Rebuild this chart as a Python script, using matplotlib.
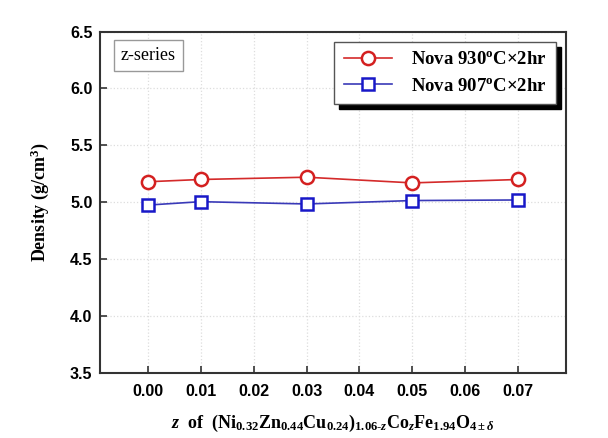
import numpy as np
import matplotlib
matplotlib.use('Agg')
import matplotlib.pyplot as plt

# composition z and sintered density (g/cm3)
z = [0.00, 0.01, 0.03, 0.05, 0.07]
dens_930 = [5.18, 5.20, 5.22, 5.17, 5.20]
dens_907 = [4.975, 5.005, 4.985, 5.015, 5.02]
labels = [r'Nova 930$^{\rm o}$C$\times$2hr', r'Nova 907$^{\rm o}$C$\times$2hr']
xticks = [0.00, 0.01, 0.02, 0.03, 0.04, 0.05, 0.06, 0.07]
yticks = [3.5, 4.0, 4.5, 5.0, 5.5, 6.0, 6.5]

plt.rcParams['mathtext.fontset'] = 'custom'
plt.rcParams['mathtext.rm'] = 'Liberation Serif:bold'
plt.rcParams['mathtext.bf'] = 'Liberation Serif:bold'
plt.rcParams['mathtext.it'] = 'Liberation Serif:italic:bold'

fig = plt.figure(figsize=(6.08, 4.38), dpi=100)
ax = fig.add_axes([99.5 / 608, 1 - 373 / 438, (566 - 99.5) / 608, (373 - 31.5) / 438])

ax.plot(z, dens_930, '-o', color='#d42a2a', lw=1.2, ms=9.5, mfc='white',
        mec='#d42020', mew=1.8, label=labels[0])
ax.plot(z, dens_907, '-s', color='#3a3ab8', lw=1.2, ms=8, mfc='white',
        mec='#1818c8', mew=1.8, label=labels[1])

ax.set_xlim(-0.0091, 0.079)
ax.set_ylim(3.5, 6.5)
ax.set_xticks(xticks)
ax.set_yticks(yticks)
ax.set_xticklabels(['%.2f' % t for t in xticks])
ax.set_yticklabels(['%.1f' % t for t in yticks])
for lab in ax.get_xticklabels() + ax.get_yticklabels():
    lab.set_fontfamily('Liberation Sans')
    lab.set_fontweight('bold')
    lab.set_fontsize(11.5)
ax.tick_params(direction='in', length=5, width=1.2, color='#333333', pad=8)
ax.tick_params(axis='y', pad=5)
for s in ax.spines.values():
    s.set_linewidth(1.5)
    s.set_color('#333333')
ax.grid(True, color='#dddddd', ls=':', lw=0.9)

ax.set_ylabel(r'Density (g/cm$^3$)', family='Liberation Serif', weight='bold',
              fontsize=13, labelpad=14)
ax.set_xlabel(r'$z$  of  (Ni$_{0.32}$Zn$_{0.44}$Cu$_{0.24}$)$_{1.06\text{-}z}$Co$_z$Fe$_{1.94}$O$_{4\pm\delta}$',
              family='Liberation Serif', weight='bold', fontsize=13, labelpad=10)

ax.text(0.046, 0.93, 'z-series', transform=ax.transAxes, family='Liberation Serif',
        fontsize=13, va='center', ha='left',
        bbox=dict(boxstyle='square,pad=0.4', fc='white', ec='#999999', lw=1))

leg = ax.legend(loc='upper right', bbox_to_anchor=(0.979, 0.97), borderaxespad=0,
                fancybox=False, shadow={'color': 'black', 'alpha': 1, 'ox': 3.5, 'oy': -3.5},
                framealpha=1, edgecolor='#555555',
                prop={'family': 'Liberation Serif', 'weight': 'bold', 'size': 13.5},
                handlelength=2.6, borderpad=0.5, labelspacing=0.5, handletextpad=1.0)
leg.get_frame().set_linewidth(1.0)

plt.savefig('out.png', dpi=100)
